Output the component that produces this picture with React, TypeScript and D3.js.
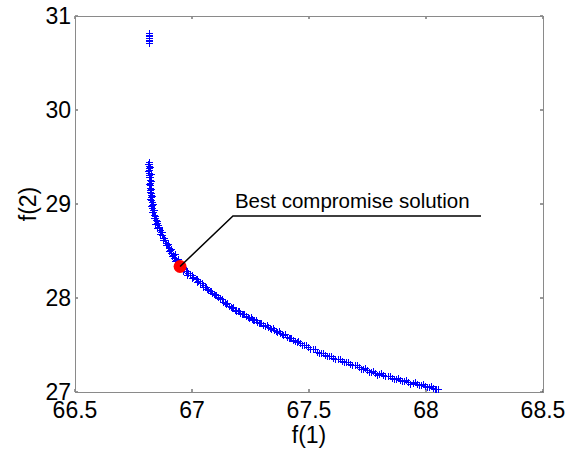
import * as d3 from "d3";

// Pareto front: [f(1), f(2)]
const topCluster: [number, number][] = [
  [66.816, 30.819], [66.817, 30.8], [66.816, 30.787], [66.817, 30.766],
  [66.816, 30.745], [66.817, 30.73], [66.816, 30.713],
];

const paretoUpper: [number, number][] = [
  [66.816, 29.447], [66.817, 29.425], [66.816, 29.404], [66.817, 29.383],
  [66.816, 29.362], [66.818, 29.335], [66.816, 29.309], [66.819, 29.282],
  [66.821, 29.255], [66.82, 29.228], [66.821, 29.202], [66.822, 29.175],
  [66.821, 29.149], [66.823, 29.122], [66.825, 29.096], [66.824, 29.07],
  [66.825, 29.043], [66.827, 29.016], [66.829, 28.989], [66.831, 28.962],
  [66.833, 28.936], [66.835, 28.91], [66.838, 28.883], [66.842, 28.856],
  [66.846, 28.83], [66.85, 28.803], [66.855, 28.777], [66.859, 28.75],
  [66.863, 28.723], [66.867, 28.697], [66.872, 28.67], [66.878, 28.643],
  [66.885, 28.617], [66.889, 28.59], [66.893, 28.564], [66.9, 28.537],
  [66.906, 28.511], [66.912, 28.484], [66.919, 28.457], [66.925, 28.43],
  [66.932, 28.404], [66.94, 28.378],
];

const paretoUpperSpread: [number, number][] = [
  [66.813, 29.43], [66.82, 29.395], [66.814, 29.35], [66.823, 29.32],
  [66.815, 29.29], [66.824, 29.24], [66.818, 29.21], [66.826, 29.16],
  [66.819, 29.13], [66.828, 29.08], [66.822, 29.05], [66.832, 29.0],
  [66.826, 28.975], [66.837, 28.94], [66.83, 28.92], [66.843, 28.87],
  [66.836, 28.85], [66.85, 28.82], [66.844, 28.79], [66.86, 28.76],
  [66.852, 28.74], [66.87, 28.7], [66.862, 28.68], [66.882, 28.64],
  [66.874, 28.62], [66.897, 28.575], [66.888, 28.56], [66.912, 28.52],
  [66.902, 28.5], [66.926, 28.465], [66.915, 28.445], [66.94, 28.41],
  [66.928, 28.39],
];

const paretoLower: [number, number][] = [
  [66.949, 28.351], [66.957, 28.33], [66.966, 28.309], [66.974, 28.29],
  [66.983, 28.266], [66.993, 28.245], [67.004, 28.223], [67.015, 28.2],
  [67.026, 28.181], [67.036, 28.16], [67.047, 28.138], [67.055, 28.118],
  [67.064, 28.096], [67.075, 28.075], [67.085, 28.053], [67.098, 28.03],
  [67.111, 28.011], [67.121, 27.985], [67.132, 27.957], [67.145, 27.937],
  [67.158, 27.915], [67.171, 27.893], [67.184, 27.872], [67.195, 27.857],
  [67.205, 27.84], [67.218, 27.825], [67.231, 27.809], [67.243, 27.791],
  [67.256, 27.777], [67.267, 27.762], [67.278, 27.745], [67.29, 27.73],
  [67.303, 27.713], [67.314, 27.7], [67.325, 27.691], [67.338, 27.675],
  [67.35, 27.66], [67.363, 27.642], [67.376, 27.628], [67.391, 27.607],
  [67.406, 27.585], [67.419, 27.57], [67.432, 27.553], [67.447, 27.537],
  [67.462, 27.521], [67.479, 27.5], [67.496, 27.479], [67.515, 27.453],
  [67.534, 27.426], [67.551, 27.41], [67.568, 27.394], [67.586, 27.378],
  [67.603, 27.362], [67.622, 27.346], [67.641, 27.33], [67.658, 27.314],
  [67.675, 27.298], [67.695, 27.282], [67.714, 27.266], [67.731, 27.25],
  [67.748, 27.234], [67.765, 27.218], [67.782, 27.202], [67.799, 27.192],
  [67.816, 27.181], [67.836, 27.165], [67.855, 27.149], [67.872, 27.138],
  [67.889, 27.128], [67.906, 27.117], [67.923, 27.106], [67.943, 27.095],
  [67.962, 27.085], [67.979, 27.074], [67.996, 27.064], [68.013, 27.053],
  [68.03, 27.043], [68.043, 27.037], [68.051, 27.032],
];

const paretoLowerAbove: [number, number][] = [
  [66.96, 28.325], [66.978, 28.285], [66.998, 28.24], [67.02, 28.2],
  [67.042, 28.158], [67.06, 28.118], [67.08, 28.078], [67.104, 28.036],
  [67.127, 27.99], [67.15, 27.945], [67.177, 27.9], [67.2, 27.862],
  [67.224, 27.83], [67.25, 27.8], [67.272, 27.771], [67.297, 27.737],
  [67.32, 27.712], [67.345, 27.682], [67.37, 27.652], [67.399, 27.612],
  [67.425, 27.578], [67.455, 27.545], [67.488, 27.505], [67.525, 27.456],
  [67.56, 27.418], [67.595, 27.386], [67.632, 27.354], [67.667, 27.322],
  [67.705, 27.29], [67.74, 27.258], [67.774, 27.226], [67.808, 27.203],
  [67.846, 27.174], [67.88, 27.151], [67.915, 27.13], [67.953, 27.108],
  [67.988, 27.088], [68.022, 27.066],
];

const paretoLowerBelow: [number, number][] = [
  [66.962, 28.29], [66.98, 28.25], [67.0, 28.208], [67.022, 28.165],
  [67.045, 28.122], [67.07, 28.08], [67.094, 28.04], [67.118, 27.995],
  [67.14, 27.945], [67.165, 27.902], [67.19, 27.86], [67.212, 27.828],
  [67.238, 27.795], [67.262, 27.763], [67.285, 27.732], [67.31, 27.7],
  [67.333, 27.676], [67.357, 27.645], [67.383, 27.612], [67.413, 27.57],
  [67.44, 27.538], [67.47, 27.505], [67.505, 27.462], [67.543, 27.41],
  [67.577, 27.378], [67.612, 27.346], [67.65, 27.314], [67.685, 27.282],
  [67.722, 27.25], [67.757, 27.218], [67.79, 27.186], [67.826, 27.166],
  [67.863, 27.134], [67.897, 27.113], [67.933, 27.09], [67.97, 27.07],
  [68.005, 27.049], [68.038, 27.028],
];

const bestPoint: [number, number] = [66.949, 28.335];
const annotationElbow: [number, number] = [67.175, 28.872];
const annotationEnd = 68.235;
const annotationText = "Best compromise solution";

const xTicks = [66.5, 67, 67.5, 68, 68.5];
const yTicks = [27, 28, 29, 30, 31];

const W = 576;
const H = 450;
const margin = { top: 16, right: 33, bottom: 58, left: 75 };
const font = "'Liberation Sans', Arial, Helvetica, sans-serif";

export default function App() {
  const x = d3.scaleLinear().domain([66.5, 68.5]).range([margin.left, W - margin.right]);
  const y = d3.scaleLinear().domain([27, 31]).range([H - margin.bottom, margin.top]);

  const points = [
    ...topCluster,
    ...paretoUpper,
    ...paretoUpperSpread,
    ...paretoLower,
    ...paretoLowerAbove,
    ...paretoLowerBelow,
  ];
  const s = 3;
  const plusPath = points
    .map(([a, b]) => {
      const px = Math.round(x(a)) + 0.5;
      const py = Math.round(y(b)) + 0.5;
      return `M${px - s - 0.5},${py}H${px + s + 0.5}M${px},${py - s - 0.5}V${py + s + 0.5}`;
    })
    .join("");

  const [x0, x1] = x.range();
  const [y0, y1] = y.range();
  const tickColor = "#333";

  const ex = x(annotationElbow[0]);
  const ey = y(annotationElbow[1]);

  return (
    <svg
      width={W}
      height={H}
      style={{ position: "absolute", left: 0, top: 0, background: "#fff" }}
      fontFamily={font}
    >
      <rect x={0} y={0} width={W} height={H} fill="#fff" />
      {xTicks.map((t) => (
        <g key={"xt" + t}>
          <line x1={x(t)} x2={x(t)} y1={y0} y2={y0 - 3} stroke={tickColor} />
          <line x1={x(t)} x2={x(t)} y1={y1} y2={y1 + 3} stroke={tickColor} />
          <text x={x(t)} y={418} textAnchor="middle" fontSize={23} fill="#000">
            {t}
          </text>
        </g>
      ))}
      {yTicks.map((t) => (
        <g key={"yt" + t}>
          <line x1={x0} x2={x0 + 3} y1={y(t)} y2={y(t)} stroke={tickColor} />
          <line x1={x1} x2={x1 - 3} y1={y(t)} y2={y(t)} stroke={tickColor} />
          <text x={x0 - 4} y={y(t)} dy="0.36em" textAnchor="end" fontSize={23} fill="#000">
            {t}
          </text>
        </g>
      ))}
      <rect
        x={x0 + 0.5}
        y={y1 + 0.5}
        width={x1 - x0}
        height={y0 - y1}
        fill="none"
        stroke="#8a8a8a"
        strokeWidth={1}
      />
      <path d={plusPath} stroke="#0000ff" strokeWidth={1} fill="none" shapeRendering="crispEdges" />
      <circle cx={x(bestPoint[0])} cy={y(bestPoint[1])} r={6.5} fill="#ff0000" />
      <polyline
        points={`${x(bestPoint[0])},${y(bestPoint[1])} ${ex},${ey} ${x(annotationEnd)},${ey}`}
        fill="none"
        stroke="#000"
        strokeWidth={1.5}
      />
      <text x={ex + 2} y={ey - 8} fontSize={20.5} fill="#000">
        {annotationText}
      </text>
      <text x={(x0 + x1) / 2} y={443} textAnchor="middle" fontSize={23} fill="#000">
        f(1)
      </text>
      <text
        transform={`translate(36,${(y0 + y1) / 2}) rotate(-90)`}
        textAnchor="middle"
        fontSize={23}
        fill="#000"
      >
        f(2)
      </text>
    </svg>
  );
}
